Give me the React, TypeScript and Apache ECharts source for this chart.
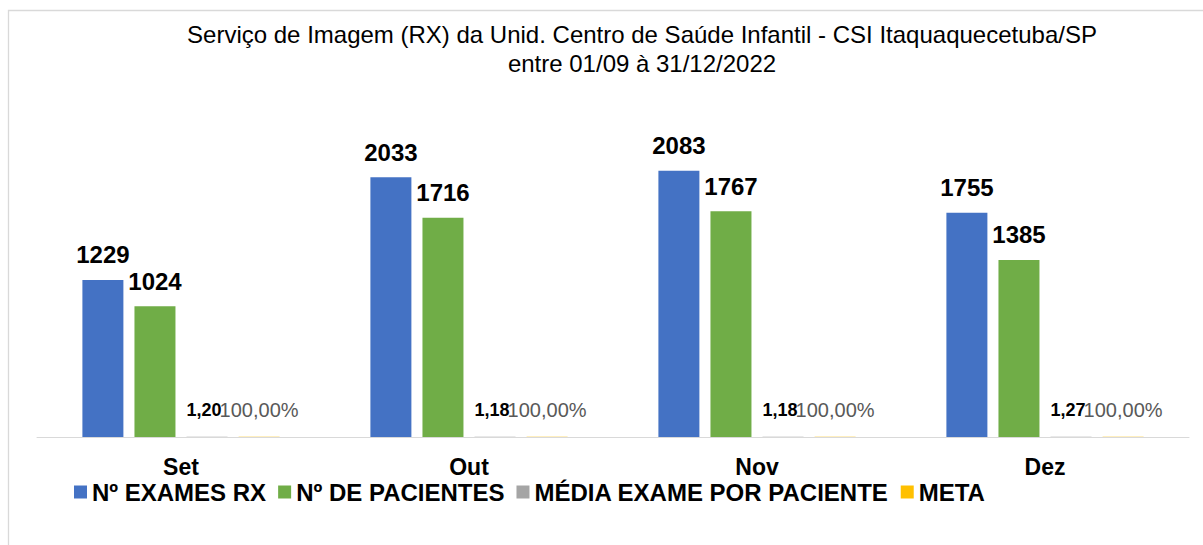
import React, { useEffect, useRef } from "react";
import * as echarts from "echarts";

const titleText = "Serviço de Imagem (RX) da Unid. Centro de Saúde Infantil - CSI Itaquaquecetuba/SP\nentre 01/09 à 31/12/2022";
const categories = ["Set", "Out", "Nov", "Dez"];
const seriesNames = ["Nº EXAMES RX", "Nº DE PACIENTES", "MÉDIA EXAME POR PACIENTE", "META"];
const exames = [1229, 2033, 2083, 1755];
const pacientes = [1024, 1716, 1767, 1385];
const media = [1.2, 1.18, 1.18, 1.27];
const meta = [1, 1, 1, 1];
const colors = ["#4472C4", "#70AD47", "#A5A5A5", "#FFC000"];

const FONT = "'Liberation Sans', Arial, sans-serif";

export default function App() {
  const ref = useRef<HTMLDivElement>(null);
  useEffect(() => {
    if (!ref.current) return;
    const chart = echarts.init(ref.current, undefined, { renderer: "svg" });
    const bigLabel = {
      show: true,
      position: "top" as const,
      distance: 12,
      fontSize: 24,
      fontWeight: "bold" as const,
      fontFamily: FONT,
      color: "#000",
      lineHeight: 26,
    };
    chart.setOption({
      animation: false,
      backgroundColor: "#fff",
      title: {
        text: titleText,
        left: 642,
        top: 19.5,
        textAlign: "center",
        padding: 0,
        textStyle: {
          fontSize: 24,
          fontWeight: "normal",
          fontFamily: FONT,
          color: "#000",
          lineHeight: 29,
        },
      },
      legend: {
        left: 74,
        top: 480,
        padding: 0,
        itemWidth: 13,
        itemHeight: 13,
        itemGap: 12,
        icon: "rect",
        data: seriesNames,
        textStyle: {
          fontSize: 24,
          fontWeight: "bold",
          fontFamily: FONT,
          color: "#000",
          lineHeight: 20,
        },
      },
      graphic: [
        {
          type: "rect",
          shape: { x: 8.5, y: 10.5, width: 1400, height: 700 },
          style: { fill: "none", stroke: "#d9d9d9", lineWidth: 1.3 },
          silent: true,
          z: -1,
        },
      ],
      grid: { left: 37, right: 14, top: 117.5, bottom: 108, outerBoundsMode: "none" },
      xAxis: {
        type: "category",
        data: categories,
        axisLine: { lineStyle: { color: "#d9d9d9", width: 1 } },
        axisTick: { show: false },
        axisLabel: {
          margin: 20,
          interval: 0,
          fontSize: 23,
          fontWeight: "bold",
          fontFamily: FONT,
          color: "#000",
          lineHeight: 20,
        },
      },
      yAxis: {
        type: "value",
        min: 0,
        max: 2500,
        show: false,
        splitLine: { show: false },
      },
      series: [
        {
          name: seriesNames[0],
          type: "bar",
          data: exames,
          barWidth: 41,
          barGap: "27%",
          itemStyle: { color: colors[0] },
          label: bigLabel,
        },
        {
          name: seriesNames[1],
          type: "bar",
          data: pacientes,
          barWidth: 41,
          barGap: "27%",
          itemStyle: { color: colors[1] },
          label: bigLabel,
        },
        {
          name: seriesNames[2],
          type: "bar",
          data: media,
          barWidth: 41,
          barGap: "27%",
          itemStyle: { color: colors[2] },
          label: {
            show: true,
            position: "top",
            distance: 16,
            fontSize: 18,
            fontWeight: "bold",
            fontFamily: FONT,
            color: "#000",
            lineHeight: 22,
            offset: [-3, 0],
            formatter: (p: any) => p.value.toFixed(2).replace(".", ","),
          },
        },
        {
          name: seriesNames[3],
          type: "bar",
          data: meta,
          barWidth: 41,
          barGap: "27%",
          itemStyle: { color: colors[3] },
          label: {
            show: true,
            position: "top",
            distance: 16,
            fontSize: 20,
            fontWeight: "normal",
            fontFamily: FONT,
            color: "#595959",
            lineHeight: 22,
            formatter: (p: any) => (p.value * 100).toFixed(2).replace(".", ",") + "%",
          },
        },
      ],
    });
    return () => chart.dispose();
  }, []);
  return (
    <div
      ref={ref}
      style={{ position: "absolute", left: 0, top: 0, width: 1203, height: 545 }}
    />
  );
}
